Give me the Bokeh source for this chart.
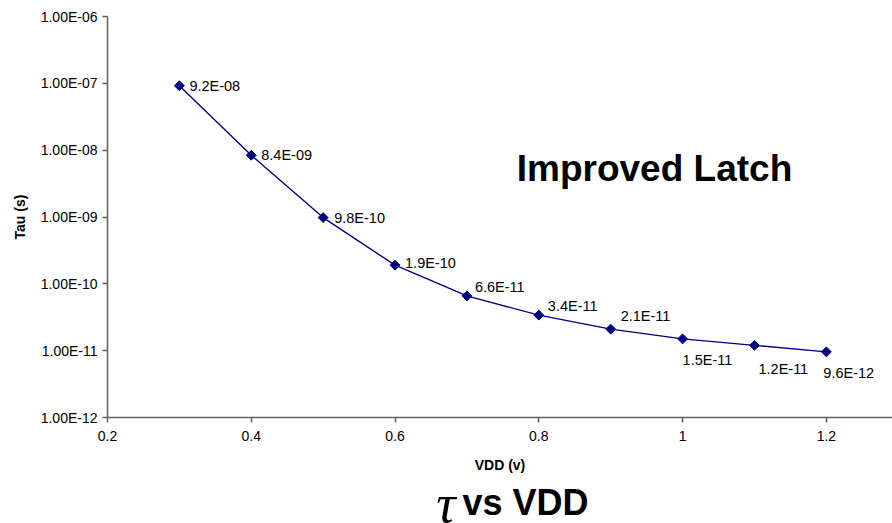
import math
from bokeh.plotting import figure
from bokeh.layouts import column
from bokeh.models import ColumnDataSource, FixedTicker, CustomJSTickFormatter, Label
from bokeh.core.properties import value
from bokeh.embed import file_html
from bokeh.resources import INLINE

# ---- data ----
vdd = [0.3, 0.4, 0.5, 0.6, 0.7, 0.8, 0.9, 1.0, 1.1, 1.2]
tau = [9.2e-08, 8.4e-09, 9.8e-10, 1.9e-10, 6.6e-11, 3.4e-11, 2.1e-11, 1.5e-11, 1.2e-11, 9.6e-12]
x_ticks = [0.2, 0.4, 0.6, 0.8, 1.0, 1.2]
y_ticks = [1e-12, 1e-11, 1e-10, 1e-09, 1e-08, 1e-07, 1e-06]
point_labels = [f"{v:.1E}" for v in tau]
chart_title_symbol = "τ"
chart_title_rest = "vs VDD"
inset_title = "Improved Latch"

# label placement (screen-pixel offsets, style only)
label_dx = [10, 10, 11, 10, 8, 9, 10, 0, 4, -3]
label_dy = [0, 0, 0, -2, -9, -9, -13, 21, 24, 21]

src = ColumnDataSource(dict(x=vdd, y=tau, lbl=point_labels, dx=label_dx, dy=label_dy))

FONT = "Liberation Sans"
NAVY = "#000080"

p = figure(width=892, height=475, y_axis_type="log",
           x_range=(0.2, 1.292), y_range=(1e-12, 1e-06),
           output_backend="svg", toolbar_location=None,
           min_border_left=107, min_border_right=0, min_border_top=16, min_border_bottom=58)
p.outline_line_color = None
p.grid.visible = False
p.background_fill_color = "white"
p.border_fill_color = "white"

p.line("x", "y", source=src, line_color=NAVY, line_width=1.4)
p.scatter("x", "y", source=src, marker="square", angle=math.pi / 4, size=7,
          fill_color=NAVY, line_color=NAVY)
p.text("x", "y", text="lbl", source=src, x_offset="dx", y_offset="dy",
       text_font=value(FONT), text_font_size="14.5px", text_color="black",
       text_align="left", text_baseline="middle")

for ax in (p.xaxis[0], p.yaxis[0]):
    ax.axis_line_color = "#606060"
    ax.axis_line_width = 1.5
    ax.major_tick_line_color = "#606060"
    ax.major_tick_line_width = 1.5
    ax.major_tick_out = 5
    ax.major_tick_in = 0
    ax.minor_tick_out = 0
    ax.minor_tick_in = 0
    ax.major_label_text_font = FONT
    ax.major_label_text_font_size = "14px"
    ax.major_label_text_color = "black"
    ax.axis_label_text_font = FONT
    ax.axis_label_text_font_size = "14px"
    ax.axis_label_text_font_style = "bold"
    ax.axis_label_text_color = "black"

p.xaxis.ticker = FixedTicker(ticks=x_ticks)
p.xaxis.formatter = CustomJSTickFormatter(code="return String(Number(tick.toFixed(1)));")
p.xaxis.major_label_standoff = 8
p.xaxis.axis_label = "VDD (v)"
p.xaxis.axis_label_standoff = 13

p.yaxis.ticker = FixedTicker(ticks=y_ticks)
p.yaxis.formatter = CustomJSTickFormatter(code="""
    var s = tick.toExponential(2).toUpperCase();
    return s.replace(/E([+-])(\\d)$/, 'E$10$2');
""")
p.yaxis.major_label_standoff = 5
p.yaxis.axis_label = "Tau (s)"
p.yaxis.axis_label_standoff = 10

p.add_layout(Label(x=547, y=249, x_units="screen", y_units="screen", text=inset_title,
                   text_font=FONT, text_font_size="37px", text_font_style="bold",
                   text_align="center", text_baseline="alphabetic", text_color="black"))

# bottom title strip: frame spans page pixels 107..892 horizontally (aligned with main frame)
t = figure(width=892, height=48, x_range=(107, 892), y_range=(0, 48),
           output_backend="svg", toolbar_location=None,
           x_axis_location=None, y_axis_location=None,
           min_border_left=107, min_border_right=0,
           min_border_top=0, min_border_bottom=0)
t.grid.visible = False
t.outline_line_color = None
t.border_fill_color = "white"
t.background_fill_color = "white"
# anchor to the strip's top edge, then shift down in pixels to the baseline
t.text(x=[455], y=[48], text=[chart_title_symbol], y_offset=28,
       text_font=value("Liberation Serif"), text_font_size="54px", text_font_style="italic",
       text_align="right", text_baseline="alphabetic", text_color="black")
t.text(x=[462], y=[48], text=[chart_title_rest], y_offset=27,
       text_font=value(FONT), text_font_size="36px", text_font_style="bold",
       text_align="left", text_baseline="alphabetic", text_color="black")

layout = column(p, t, spacing=0)
open("out.html", "w").write(file_html(layout, INLINE))
